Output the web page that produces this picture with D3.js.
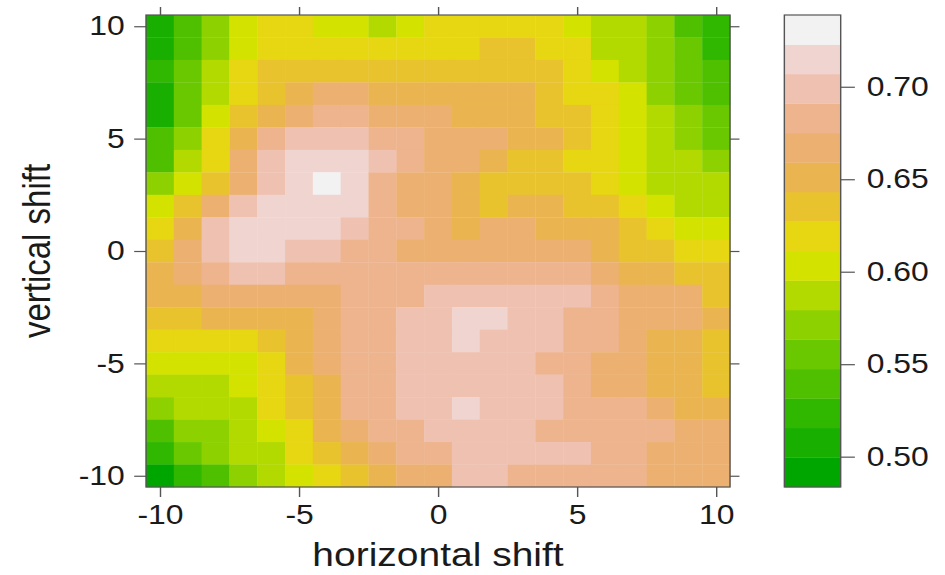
<!DOCTYPE html>
<html>
<head>
<meta charset="utf-8">
<script src="https://cdn.jsdelivr.net/npm/d3@7"></script>
<style>
  body { margin: 0; background: #fff; }
  #chart svg { display: block; }
  text { font-family: "Liberation Sans", Arial, Helvetica, sans-serif; fill: #1a1a1a; }
</style>
</head>
<body>
<div id="chart"></div>
<script>
// grid coordinates (both axes run -10..10 in steps of 1)
const xShifts = d3.range(-10, 11);
const yShifts = d3.range(10, -11, -1); // top row first

// values, one row per vertical shift (10 at the top)
const zRows = [
  [.508,.539,.571,.603,.619,.619,.603,.603,.587,.603,.619,.619,.619,.619,.619,.603,.587,.587,.571,.539,.524],
  [.508,.539,.571,.603,.619,.619,.619,.619,.619,.619,.619,.619,.635,.635,.619,.619,.587,.587,.571,.555,.524],
  [.524,.555,.587,.619,.635,.635,.635,.635,.635,.635,.635,.635,.635,.635,.635,.619,.603,.587,.571,.555,.539],
  [.508,.555,.587,.619,.635,.651,.667,.667,.651,.651,.651,.651,.651,.651,.635,.619,.619,.603,.571,.555,.539],
  [.508,.555,.603,.635,.651,.667,.683,.683,.667,.667,.667,.651,.651,.651,.635,.635,.619,.603,.587,.571,.555],
  [.539,.571,.619,.651,.683,.699,.699,.699,.683,.683,.667,.667,.667,.651,.651,.635,.619,.603,.587,.571,.555],
  [.539,.587,.619,.667,.699,.715,.715,.715,.699,.683,.667,.667,.651,.635,.635,.619,.619,.603,.587,.587,.571],
  [.571,.603,.635,.667,.699,.715,.731,.715,.683,.667,.667,.651,.635,.635,.635,.635,.619,.603,.587,.587,.587],
  [.603,.635,.667,.699,.715,.715,.715,.715,.683,.667,.667,.651,.635,.651,.651,.635,.635,.619,.603,.587,.587],
  [.619,.651,.699,.715,.715,.715,.715,.699,.683,.683,.667,.651,.667,.667,.651,.651,.651,.635,.619,.603,.603],
  [.635,.667,.699,.715,.715,.699,.699,.683,.683,.667,.667,.667,.667,.667,.667,.667,.651,.635,.635,.619,.619],
  [.651,.667,.683,.699,.699,.683,.683,.683,.683,.683,.683,.683,.683,.683,.683,.683,.667,.651,.651,.635,.635],
  [.651,.651,.667,.667,.667,.667,.667,.683,.683,.683,.699,.699,.699,.699,.699,.699,.683,.667,.667,.667,.635],
  [.635,.635,.651,.651,.651,.651,.667,.683,.683,.699,.699,.715,.715,.699,.699,.683,.683,.667,.667,.667,.651],
  [.619,.619,.619,.619,.635,.651,.667,.683,.683,.699,.699,.715,.699,.699,.699,.683,.683,.667,.651,.651,.635],
  [.603,.603,.603,.603,.619,.651,.667,.683,.683,.699,.699,.699,.699,.699,.683,.683,.667,.667,.651,.651,.635],
  [.587,.587,.587,.603,.619,.635,.651,.683,.683,.699,.699,.699,.699,.699,.699,.683,.667,.667,.651,.651,.635],
  [.571,.587,.587,.587,.619,.635,.651,.683,.683,.699,.699,.715,.699,.699,.699,.683,.683,.683,.667,.651,.651],
  [.539,.571,.571,.587,.603,.619,.651,.667,.683,.683,.699,.699,.699,.699,.683,.683,.683,.683,.683,.667,.667],
  [.524,.555,.571,.587,.587,.619,.635,.651,.667,.683,.683,.699,.699,.699,.699,.699,.683,.683,.667,.667,.667],
  [.492,.524,.539,.571,.587,.603,.619,.635,.651,.667,.667,.699,.699,.683,.683,.683,.683,.683,.667,.667,.667]
];

// colour key range and labels
const zRange = [0.4836, 0.7388];
const nLevels = 16;
const axisTicks = [-10, -5, 0, 5, 10];
const keyTicks = [0.50, 0.55, 0.60, 0.65, 0.70];

// R style terrain.colors(n)
function hsv(h, s, v) {
  const i = Math.floor(h * 6) % 6, f = h * 6 - Math.floor(h * 6);
  const p = v * (1 - s), q = v * (1 - f * s), t = v * (1 - (1 - f) * s);
  const rgb = [[v, t, p], [q, v, p], [p, v, t], [p, q, v], [t, p, v], [v, p, q]][i];
  return d3.rgb(rgb[0] * 255, rgb[1] * 255, rgb[2] * 255).formatHex();
}
function terrainColors(n) {
  const k = Math.floor(n / 2);
  const seq = (a, b, m) => d3.range(m).map(i => m === 1 ? a : a + (b - a) * i / (m - 1));
  const first = d3.zip(seq(4 / 12, 2 / 12, k), seq(1, 1, k), seq(0.65, 0.9, k));
  const second = d3.zip(seq(2 / 12, 0, n - k + 1), seq(1, 0, n - k + 1), seq(0.9, 0.95, n - k + 1)).slice(1);
  return first.concat(second).map(d => hsv(d[0], d[1], d[2]));
}
// pick nLevels colours out of a longer palette, the way lattice does it
function levelColors(palette, n) {
  return d3.range(n).map(i => palette[Math.round(1 + (palette.length - 1) * i / (n - 1)) - 1]);
}

function createVisualization() {
  // the picture is drawn on an 800 wide canvas and stretched to the window
  const W = 800, H = 575;
  const svg = d3.select('#chart').append('svg')
    .attr('width', 945)
    .attr('height', 575)
    .attr('viewBox', `0 0 ${W} ${H}`)
    .attr('preserveAspectRatio', 'none');

  const panel = { left: 123.6, right: 618, top: 15, bottom: 487 };
  const x = d3.scaleLinear().domain([-10.5, 10.5]).range([panel.left, panel.right]);
  const y = d3.scaleLinear().domain([-10.5, 10.5]).range([panel.bottom, panel.top]);

  const colors = levelColors(terrainColors(100), nLevels);
  const breaks = d3.range(nLevels + 1).map(i => zRange[0] + (zRange[1] - zRange[0]) * i / nLevels);
  const color = d3.scaleThreshold().domain(breaks.slice(1, -1)).range(colors);

  // cells
  const cells = [];
  zRows.forEach((row, r) => row.forEach((z, c) => cells.push({ x: xShifts[c], y: yShifts[r], z })));
  svg.append('g').selectAll('rect')
    .data(cells)
    .join('rect')
    .attr('x', d => x(d.x - 0.5))
    .attr('y', d => y(d.y + 0.5))
    .attr('width', x(0.5) - x(-0.5) + 0.3)
    .attr('height', y(-0.5) - y(0.5) + 0.3)
    .attr('fill', d => color(d.z));

  // axes on all four sides, labels on left and bottom
  const tickStyle = g => {
    g.select('.domain').remove();
    g.selectAll('line').attr('stroke', '#555').attr('stroke-width', 1.2);
    g.selectAll('text').attr('font-size', 27).attr('fill', '#1a1a1a')
      .attr('font-family', '"Liberation Sans", Arial, sans-serif');
  };
  const plain = d => String(d); // hyphen minus like the original
  svg.append('g').attr('transform', `translate(0,${panel.bottom})`)
    .call(d3.axisBottom(x).tickValues(axisTicks).tickSize(10).tickPadding(8).tickFormat(plain))
    .call(tickStyle);
  svg.append('g').attr('transform', `translate(${panel.left},0)`)
    .call(d3.axisLeft(y).tickValues(axisTicks).tickSize(10).tickPadding(8).tickFormat(plain))
    .call(tickStyle);
  svg.append('g').attr('transform', `translate(0,${panel.top})`)
    .call(d3.axisTop(x).tickValues(axisTicks).tickSize(8).tickFormat(''))
    .call(tickStyle);
  svg.append('g').attr('transform', `translate(${panel.right},0)`)
    .call(d3.axisRight(y).tickValues(axisTicks).tickSize(8).tickFormat(''))
    .call(tickStyle);

  svg.append('rect')
    .attr('x', panel.left).attr('y', panel.top)
    .attr('width', panel.right - panel.left).attr('height', panel.bottom - panel.top)
    .attr('fill', 'none').attr('stroke', '#555').attr('stroke-width', 1.2);

  // colour key
  const key = { left: 664, right: 711.7 };
  const ky = d3.scaleLinear().domain(zRange).range([panel.bottom, panel.top]);
  svg.append('g').selectAll('rect')
    .data(colors)
    .join('rect')
    .attr('x', key.left)
    .attr('y', (d, i) => ky(breaks[i + 1]))
    .attr('width', key.right - key.left)
    .attr('height', (d, i) => ky(breaks[i]) - ky(breaks[i + 1]) + 0.3)
    .attr('fill', d => d);
  svg.append('rect')
    .attr('x', key.left).attr('y', panel.top)
    .attr('width', key.right - key.left).attr('height', panel.bottom - panel.top)
    .attr('fill', 'none').attr('stroke', '#555').attr('stroke-width', 1.2);
  svg.append('g').attr('transform', `translate(${key.right},0)`)
    .call(d3.axisRight(ky).tickValues(keyTicks).tickSize(12).tickPadding(10).tickFormat(d3.format('.2f')))
    .call(tickStyle);

  // axis titles
  svg.append('text')
    .attr('x', (panel.left + panel.right) / 2)
    .attr('y', 566)
    .attr('text-anchor', 'middle')
    .attr('font-size', 33)
    .text('horizontal shift');
  svg.append('text')
    .attr('transform', `translate(42,${(panel.top + panel.bottom) / 2}) rotate(-90)`)
    .attr('text-anchor', 'middle')
    .attr('font-size', 33)
    .text('vertical shift');
}

createVisualization();
</script>
</body>
</html>
